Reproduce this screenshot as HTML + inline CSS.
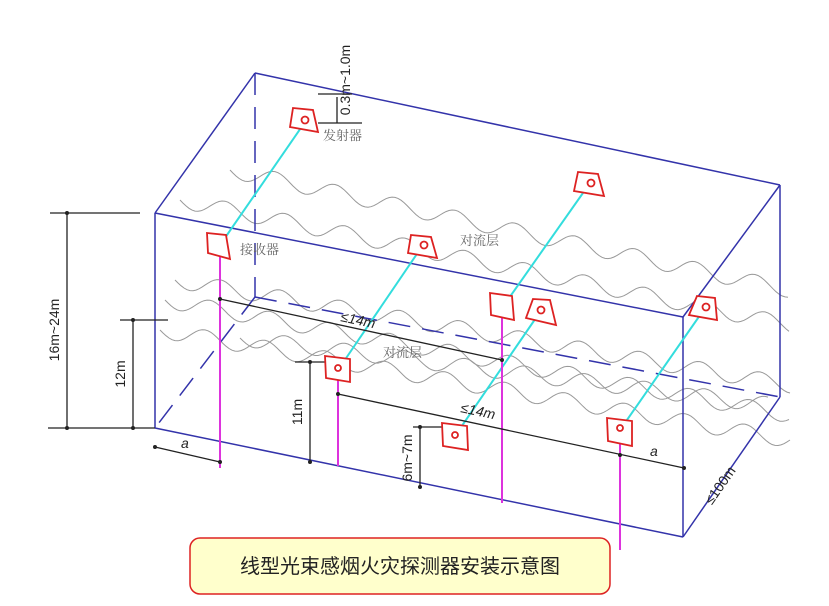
<!DOCTYPE html>
<html><head><meta charset="utf-8"><style>
html,body{margin:0;padding:0;background:#fff;}
svg{display:block}
.cn{font-family:"Noto Serif CJK SC","Noto Sans CJK SC",serif;font-size:13px;fill:#666}
.dim{font-family:"Liberation Sans",sans-serif;font-size:14px;fill:#222}
</style></head><body>
<svg id="s" width="829" height="606" viewBox="0 0 829 606" xmlns="http://www.w3.org/2000/svg">
<g id="waves" fill="none" stroke="#999" stroke-width="1"></g>
<g stroke="#3333aa" stroke-width="1.5" fill="none">
<line x1="155" y1="213" x2="683" y2="317"/>
<line x1="155" y1="213" x2="155" y2="428"/>
<line x1="155" y1="428" x2="683" y2="537"/>
<line x1="683" y1="317" x2="683" y2="537"/>
<line x1="155" y1="213" x2="255" y2="73"/>
<line x1="255" y1="73" x2="780" y2="185"/>
<line x1="683" y1="317" x2="780" y2="185"/>
<line x1="780" y1="185" x2="780" y2="397"/>
<line x1="683" y1="537" x2="780" y2="397"/>
<g stroke-dasharray="22,12">
<line x1="255" y1="73" x2="255" y2="297"/>
<line x1="255" y1="297" x2="780" y2="397"/>
<line x1="255" y1="297" x2="155" y2="428"/>
</g>
</g>
<g stroke="#33dddd" stroke-width="2">
<line x1="305" y1="122" x2="218" y2="248"/>
<line x1="590" y1="183" x2="502" y2="308"/>
<line x1="423" y1="245" x2="338" y2="370"/>
<line x1="540" y1="312" x2="455" y2="436"/>
<line x1="705" y1="308" x2="620" y2="430"/>
</g>
<g stroke="#dd33dd" stroke-width="2">
<line x1="220" y1="250" x2="220" y2="468"/>
<line x1="502" y1="310" x2="502" y2="503"/>
<line x1="338" y1="378" x2="338" y2="466"/>
<line x1="620" y1="440" x2="620" y2="550"/>
</g>
<g stroke="#222" stroke-width="1.3" fill="none">
<line x1="50" y1="213" x2="140" y2="213"/>
<line x1="48" y1="428" x2="155" y2="428"/>
<line x1="67" y1="213" x2="67" y2="428"/>
<line x1="120" y1="320" x2="168" y2="320"/>
<line x1="133" y1="320" x2="133" y2="428"/>
<line x1="155" y1="447" x2="220" y2="462"/>
<line x1="220" y1="299" x2="502" y2="360"/>
<line x1="338" y1="394" x2="684" y2="468"/>
<line x1="295" y1="362" x2="325" y2="362"/>
<line x1="310" y1="362" x2="310" y2="462"/>
<line x1="413" y1="427" x2="445" y2="427"/>
<line x1="420" y1="427" x2="420" y2="487"/>
<line x1="337" y1="97" x2="337" y2="123"/>
<line x1="318" y1="94" x2="352" y2="94"/>
<line x1="318" y1="123" x2="362" y2="123"/>
</g>
<g fill="#222">
<circle cx="67" cy="213" r="2"/><circle cx="67" cy="428" r="2"/><circle cx="133" cy="320" r="2"/><circle cx="133" cy="428" r="2"/>
<circle cx="155" cy="447" r="2"/><circle cx="220" cy="462" r="2"/><circle cx="220" cy="299" r="2"/><circle cx="502" cy="360" r="2"/>
<circle cx="338" cy="394" r="2"/><circle cx="620" cy="455" r="2"/><circle cx="684" cy="468" r="2"/>
<circle cx="310" cy="362" r="2"/><circle cx="310" cy="462" r="2"/><circle cx="420" cy="427" r="2"/><circle cx="420" cy="487" r="2"/>
</g>
<g stroke="#dd2222" stroke-width="1.8" fill="#fff">
<path d="M293,108 L313,110 L318,132 L290,127 Z"/><circle cx="305" cy="120" r="3.5"/>
<path d="M578,172 L598,174 L604,196 L574,191 Z"/><circle cx="591" cy="183" r="3.5"/>
<path d="M411,235 L431,237 L437,258 L408,253 Z"/><circle cx="424" cy="245" r="3.5"/>
<path d="M697,296 L715,298 L717,320 L689,315 Z"/><circle cx="706" cy="307" r="3.5"/>
<path d="M533,299 L550,300 L556,325 L526,318 Z"/><circle cx="541" cy="310" r="3.5"/>
<path d="M207,233 L226,235 L230,259 L208,253 Z"/>
<path d="M490,293 L512,296 L514,320 L491,315 Z"/>
<path d="M325,356 L350,359 L350,382 L326,378 Z"/><circle cx="338" cy="368" r="3"/>
<path d="M442,423 L467,426 L468,450 L443,446 Z"/><circle cx="455" cy="435" r="3"/>
<path d="M607,418 L632,421 L632,446 L608,441 Z"/><circle cx="620" cy="428" r="3"/>
</g>
<text class="cn" x="323" y="140">发射器</text>
<text class="cn" x="240" y="254">接收器</text>
<text class="cn" x="460" y="245">对流层</text>
<text class="cn" x="383" y="357">对流层</text>
<text class="dim" transform="translate(59,330) rotate(-90)" text-anchor="middle">16m~24m</text>
<text class="dim" transform="translate(125,374) rotate(-90)" text-anchor="middle">12m</text>
<text class="dim" transform="translate(302,412) rotate(-90)" text-anchor="middle">11m</text>
<text class="dim" transform="translate(412,458) rotate(-90)" text-anchor="middle">6m~7m</text>
<text class="dim" transform="translate(350,80) rotate(-90)" text-anchor="middle">0.3m~1.0m</text>
<text class="dim" transform="translate(340,321) rotate(12)" font-style="italic">≤14m</text>
<text class="dim" transform="translate(460,412) rotate(12)" font-style="italic">≤14m</text>
<text class="dim" x="181" y="448" font-style="italic">a</text>
<text class="dim" x="650" y="456" font-style="italic">a</text>
<text class="dim" transform="translate(724,488) rotate(-55)" text-anchor="middle">≤100m</text>
<rect x="190" y="538" width="420" height="56" rx="10" fill="#ffffcc" stroke="#dd2222" stroke-width="1.5"/>
<text x="400" y="573" text-anchor="middle" style="font-family:'Noto Sans CJK SC',sans-serif;font-size:20px;fill:#222">线型光束感烟火灾探测器安装示意图</text>
</svg>
<script>
var g=document.getElementById('waves');
var rows=[[230,170,790,290],[180,200,790,325],[175,280,790,385],[165,300,790,415],[160,330,790,440],[240,338,770,405]];
rows.forEach(function(r){var x0=r[0],y0=r[1],x1=r[2],y1=r[3],d='';for(var x=x0;x<=x1;x+=3){var t=(x-x0)/(x1-x0);var y=y0+(y1-y0)*t+8*Math.sin((x-x0)/60*2*Math.PI);d+=(x==x0?'M':'L')+x+','+y.toFixed(1);}var p=document.createElementNS('http://www.w3.org/2000/svg','path');p.setAttribute('d',d);g.appendChild(p);});
</script>
</body></html>
